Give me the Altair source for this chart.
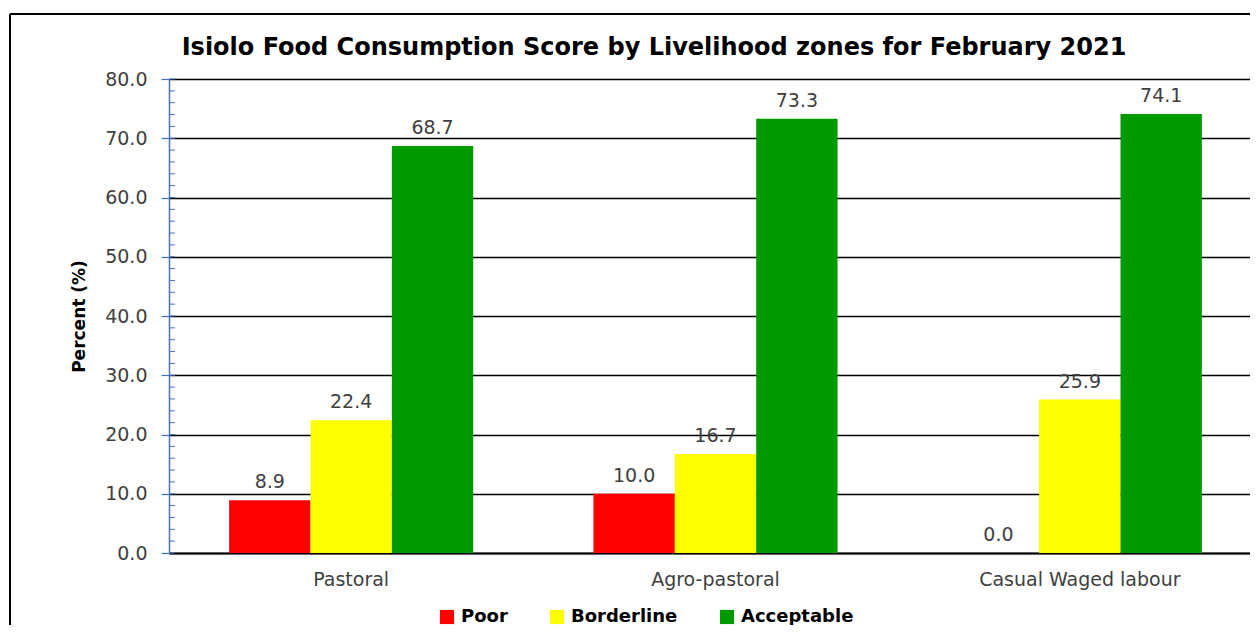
import altair as alt
import pandas as pd

zones = ["Pastoral", "Agro-pastoral", "Casual Waged labour"]
groups = ["Poor", "Borderline", "Acceptable"]
poor = [8.9, 10.0, 0.0]
borderline = [22.4, 16.7, 25.9]
acceptable = [68.7, 73.3, 74.1]
colors = ["#FF0000", "#FFFF00", "#009900"]
y_ticks = [0, 10, 20, 30, 40, 50, 60, 70, 80]
minor_ticks = list(range(0, 81, 2))
title_text = "Isiolo Food Consumption Score by Livelihood zones for February 2021"

rows = []
for g, vals in zip(groups, [poor, borderline, acceptable]):
    for z, v in zip(zones, vals):
        rows.append({"zone": z, "group": g, "value": v})
df = pd.DataFrame(rows)

FONT = "DejaVu Sans"
TXT = "#404040"

x_enc = alt.X(
    "zone:N", sort=zones,
    scale=alt.Scale(range=[0, 1093], paddingInner=0.33, paddingOuter=0.165),
    axis=alt.Axis(title=None, labelAngle=0, ticks=False, domainColor="black",
                  domainWidth=2, labelFontSize=19, labelColor=TXT, labelFont=FONT,
                  labelPadding=17, labelLimit=400),
)
xo_enc = alt.XOffset("group:N", sort=groups, scale=alt.Scale(paddingInner=0, paddingOuter=0))
y_enc = alt.Y(
    "value:Q", scale=alt.Scale(domain=[0, 80], nice=False),
    axis=alt.Axis(title="Percent (%)", values=y_ticks, format=".1f", grid=True,
                  gridColor="black", gridWidth=1.6, domainColor="#4472C4",
                  domainWidth=1.5, tickColor="#4472C4", tickSize=8, tickWidth=1.2,
                  labelFontSize=19, labelColor=TXT, labelFont=FONT, labelPadding=14,
                  titleFontSize=17, titleFont=FONT, titleFontWeight="bold",
                  titleColor="black", titlePadding=16),
)

bars = alt.Chart(df).mark_bar(strokeWidth=0).encode(
    x=x_enc, xOffset=xo_enc, y=y_enc,
    color=alt.Color("group:N", sort=groups,
                    scale=alt.Scale(domain=groups, range=colors),
                    legend=alt.Legend(title=None, orient="none", direction="horizontal",
                                      legendX=269, legendY=529, symbolType="square",
                                      symbolSize=200, symbolStrokeWidth=0,
                                      labelFontSize=18, labelFont=FONT,
                                      labelFontWeight="bold", labelColor="black",
                                      columnPadding=40, labelOffset=5)),
)

labels = alt.Chart(df).mark_text(baseline="alphabetic", dy=-12, fontSize=19,
                                 font=FONT, color=TXT).encode(
    x=alt.X("zone:N", sort=zones), xOffset=alt.XOffset("group:N", sort=groups),
    y="value:Q", text=alt.Text("value:Q", format=".1f"),
)

minor = alt.Chart(pd.DataFrame({"v": minor_ticks})).mark_rule(
    color="#4472C4", strokeWidth=1).encode(
    y="v:Q", x=alt.value(0), x2=alt.value(6))

frame_src = alt.Data(values=[{"k": 1}])
frame_left = alt.Chart(frame_src).mark_rule(color="black", strokeWidth=2).encode(
    x=alt.value(-159), y=alt.value(-65), y2=alt.value(700))
frame_top = alt.Chart(frame_src).mark_rule(color="black", strokeWidth=2).encode(
    x=alt.value(-159), x2=alt.value(1200), y=alt.value(-65))

title = alt.Chart(frame_src).mark_text(
    font=FONT, fontSize=24, fontWeight="bold", color="black",
    align="center", baseline="alphabetic").encode(
    x=alt.value(485), y=alt.value(-24), text=alt.value(title_text))

chart = alt.layer(bars, labels, minor, frame_left, frame_top, title).properties(
    width=1081, height=474,
    padding={"left": 161, "top": 71, "right": 0, "bottom": 72},
    autosize=alt.AutoSizeParams(type="none"),
).configure_view(stroke=None).configure(background="white")

chart.save("out.html", embed_options={"renderer": "svg", "actions": False})
